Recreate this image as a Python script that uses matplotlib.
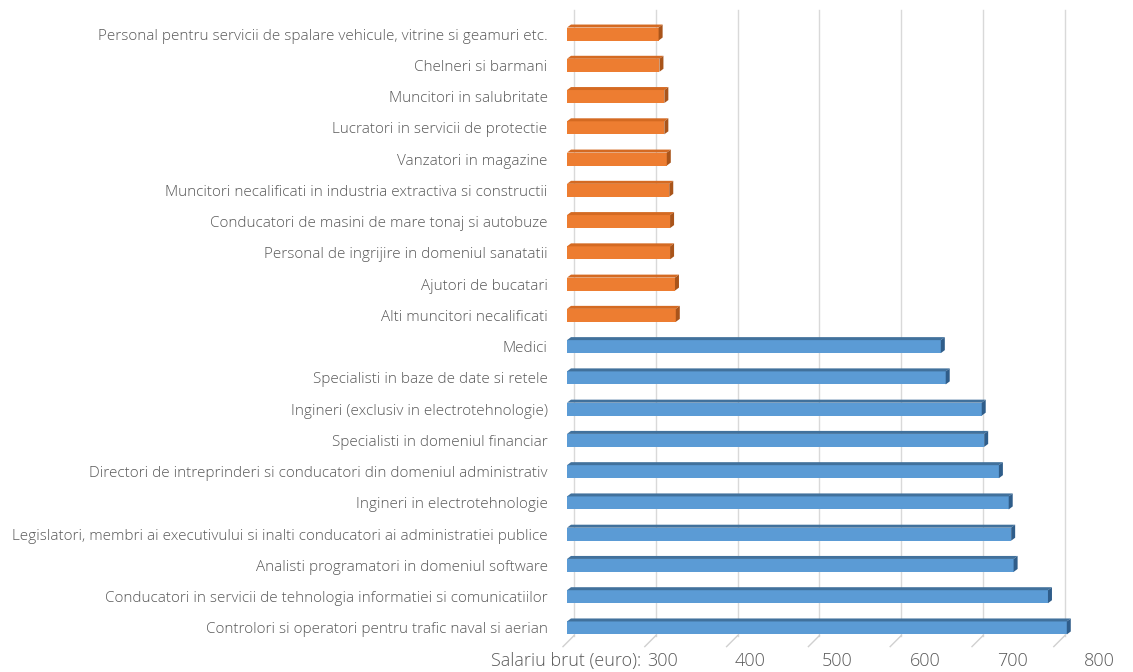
import matplotlib
matplotlib.use("Agg")
import matplotlib.pyplot as plt
from matplotlib.patches import Polygon
from matplotlib.transforms import ScaledTranslation, blended_transform_factory

categories = [
    "Personal pentru servicii de spalare vehicule, vitrine si geamuri etc.",
    "Chelneri si barmani",
    "Muncitori in salubritate",
    "Lucratori in servicii de protectie",
    "Vanzatori in magazine",
    "Muncitori necalificati in industria extractiva si constructii",
    "Conducatori de masini de mare tonaj si autobuze",
    "Personal de ingrijire in domeniul sanatatii",
    "Ajutori de bucatari",
    "Alti muncitori necalificati",
    "Medici",
    "Specialisti in baze de date si retele",
    "Ingineri (exclusiv in electrotehnologie)",
    "Specialisti in domeniul financiar",
    "Directori de intreprinderi si conducatori din domeniul administrativ",
    "Ingineri in electrotehnologie",
    "Legislatori, membri ai executivului si inalti conducatori ai administratiei publice",
    "Analisti programatori in domeniul software",
    "Conducatori in servicii de tehnologia informatiei si comunicatiilor",
    "Controlori si operatori pentru trafic naval si aerian",
]
salaries = [312, 313, 319, 319, 322, 325, 326, 326, 332, 333,
            657, 663, 707, 710, 728, 740, 743, 746, 788, 811]
groups = ["low"] * 10 + ["high"] * 10
tick_values = [300, 400, 500, 600, 700, 800]
axis_label = "Salariu brut (euro):"

W, H, DPI = 1133, 672, 100
fig = plt.figure(figsize=(W / DPI, H / DPI), dpi=DPI)
X0, XMAX = 200, 840
ax_left, ax_right = 567, 1090.5
ax_top, ax_bottom = 18.4, 643.6
ax = fig.add_axes([ax_left / W, 1 - ax_bottom / H,
                   (ax_right - ax_left) / W, (ax_bottom - ax_top) / H])
ax.set_xlim(X0, XMAX)
n = len(categories)
ax.set_ylim(n - 0.5, -0.5)

px_x = (ax_right - ax_left) / (XMAX - X0)   # pixels per x unit
px_y = (ax_bottom - ax_top) / n             # pixels per y unit
ax_h = ax_bottom - ax_top

text_color = "#595959"
font = ["Open Sans", "DejaVu Sans"]
weight = "light"

# back-wall gridlines (shifted for 3D depth)
back = ScaledTranslation(7 / DPI, 8 / DPI, fig.dpi_scale_trans)
xtr = ax.get_xaxis_transform()
for v in [X0] + tick_values:
    ax.plot([v, v], [0, 1], transform=xtr + back, color="#D9D9D9",
            lw=1.0, clip_on=False, zorder=0)
    ax.add_line(plt.Line2D([v + 7 / px_x, v - 4 / px_x], [8 / ax_h, -3 / ax_h],
                           transform=xtr, color="#D0D0D0", lw=1.0, clip_on=False, zorder=0))

colors = {
    "low": ("#ED7D31", "#D46A22", "#A9541A"),
    "high": ("#5B9BD5", "#41719C", "#2F5D8A"),
}
bh = 13 / px_y
dx = 4 / px_x
dy = 3 / px_y
for i, (v, g) in enumerate(zip(salaries, groups)):
    front, top, side = colors[g]
    ax.barh(i, v - X0, left=X0, height=bh, color=front, zorder=3, edgecolor="none")
    yt = i - bh / 2
    yb = i + bh / 2
    ax.add_patch(Polygon([(X0, yt), (v, yt), (v + dx, yt - dy), (X0 + dx, yt - dy)],
                         closed=True, facecolor=top, edgecolor="none", zorder=3, clip_on=False))
    ax.add_patch(Polygon([(v, yt), (v + dx, yt - dy), (v + dx, yb - dy), (v, yb)],
                         closed=True, facecolor=side, edgecolor="none", zorder=3, clip_on=False))

ax.set_yticks(range(n))
ax.set_yticklabels(categories, fontsize=11, color=text_color, family=font, weight=weight)
ax.tick_params(axis="y", length=0, pad=14)
ax.set_xticks([])
for s in ax.spines.values():
    s.set_visible(False)

# x tick labels (spread like the 3D perspective of the reference)
bt = blended_transform_factory(ax.transData, ax.transAxes)
for v in tick_values:
    off = 14 + (v - tick_values[0]) * 0.056
    ax.text(v, 0, str(v), transform=bt + ScaledTranslation(off / DPI, -17 / DPI, fig.dpi_scale_trans),
            ha="center", va="center", fontsize=13, color=text_color, family=font, weight=weight)
ax.text(tick_values[0], 0, axis_label,
        transform=bt + ScaledTranslation(-8 / DPI, -17 / DPI, fig.dpi_scale_trans),
        ha="right", va="center", fontsize=13, color=text_color, family=font, weight=weight)

fig.savefig("out.png", dpi=DPI)
